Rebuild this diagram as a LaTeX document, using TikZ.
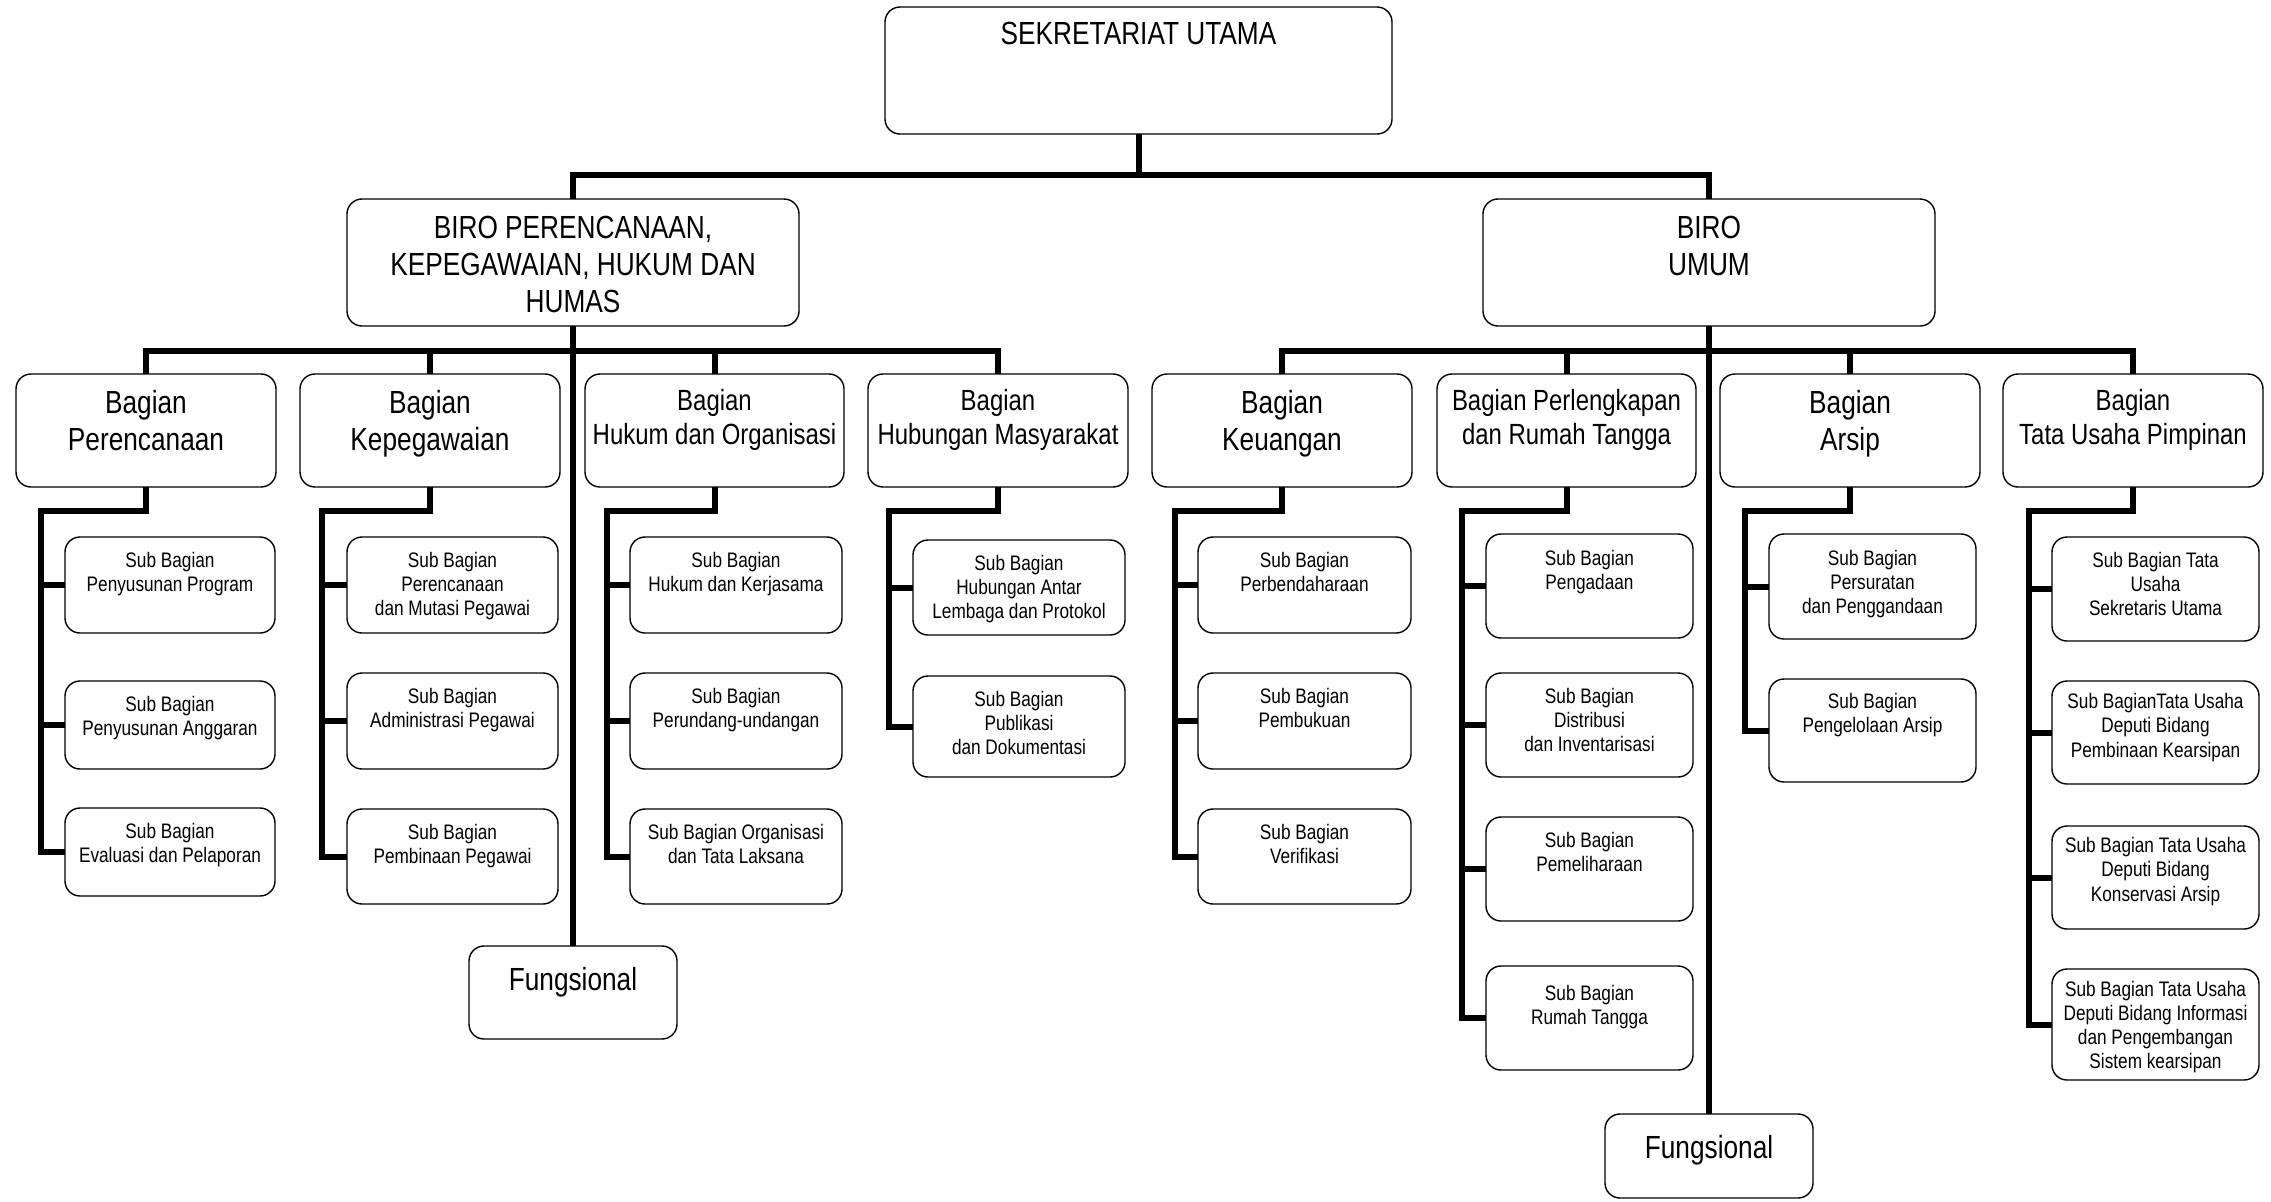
\documentclass[tikz,border=0pt]{standalone}
\usepackage{fontspec}
\setmainfont{Liberation Sans}[FakeStretch=0.82]
\usetikzlibrary{fit}
\newcommand\fntL{\fontsize{16pt}{18.5pt}\selectfont}
\newcommand\fntM{\fontsize{14.6pt}{16.85pt}\selectfont}
\newcommand\fntS{\fontsize{10.5pt}{12.1pt}\selectfont}
\newcommand\obox[8]{%
  \node[boxst, fit={(#2,#3) (#4,#5)}] (#1) {};
  \node[txtst, font=#6, anchor=north] (#1t) at ([yshift=-#7*0.5pt]#1.north) {#8};
}
\tikzset{
  boxst/.style={draw, line width=0.7pt, rounded corners=7.5pt, inner sep=0pt, outer sep=0pt},
  txtst/.style={align=center, inner sep=0pt},
  conn/.style={line width=3pt, line join=miter, line cap=butt}
}
\begin{document}
\begin{tikzpicture}[x=0.5pt, y=-0.5pt]
\useasboundingbox (0,0) rectangle (2271,1201);
% top level
\obox{top}{885}{7}{1392}{134}{\fntL}{15}{SEKRETARIAT UTAMA}
\obox{biroL}{347}{199}{799}{326}{\fntL}{17}{BIRO PERENCANAAN,\\KEPEGAWAIAN, HUKUM DAN\\HUMAS}
\obox{biroR}{1483}{199}{1935}{326}{\fntL}{17}{BIRO\\UMUM}
% bagian
\obox{bP}{16}{374}{276}{487}{\fntL}{16}{Bagian\\Perencanaan}
\obox{bK}{300}{374}{560}{487}{\fntL}{16}{Bagian\\Kepegawaian}
\obox{bH}{585}{374}{844}{487}{\fntM}{15}{Bagian\\Hukum dan Organisasi}
\obox{bM}{868}{374}{1128}{487}{\fntM}{15}{Bagian\\Hubungan Masyarakat}
\obox{bKu}{1152}{374}{1412}{487}{\fntL}{16}{Bagian\\Keuangan}
\obox{bPl}{1437}{374}{1696}{487}{\fntM}{15}{Bagian Perlengkapan\\dan Rumah Tangga}
\obox{bA}{1720}{374}{1980}{487}{\fntL}{16}{Bagian\\Arsip}
\obox{bT}{2003}{374}{2263}{487}{\fntM}{15}{Bagian\\Tata Usaha Pimpinan}
% fungsional
\obox{fL}{469}{946}{677}{1039}{\fntL}{21}{Fungsional}
\obox{fR}{1605}{1114}{1813}{1198}{\fntL}{21}{Fungsional}
% sub perencanaan
\obox{sP1}{65}{537}{275}{633}{\fntS}{14.5}{Sub Bagian\\Penyusunan Program}
\obox{sP2}{65}{681}{275}{769}{\fntS}{14.5}{Sub Bagian\\Penyusunan Anggaran}
\obox{sP3}{65}{808}{275}{896}{\fntS}{14.5}{Sub Bagian\\Evaluasi dan Pelaporan}
% sub kepegawaian
\obox{sK1}{347}{537}{558}{633}{\fntS}{14.5}{Sub Bagian\\Perencanaan\\dan Mutasi Pegawai}
\obox{sK2}{347}{673}{558}{769}{\fntS}{14.5}{Sub Bagian\\Administrasi Pegawai}
\obox{sK3}{347}{809}{558}{904}{\fntS}{14.5}{Sub Bagian\\Pembinaan Pegawai}
% sub hukum
\obox{sH1}{630}{537}{842}{633}{\fntS}{14.5}{Sub Bagian\\Hukum dan Kerjasama}
\obox{sH2}{630}{673}{842}{769}{\fntS}{14.5}{Sub Bagian\\Perundang-undangan}
\obox{sH3}{630}{809}{842}{904}{\fntS}{14.5}{Sub Bagian Organisasi\\dan Tata Laksana}
% sub humas
\obox{sM1}{913}{540}{1125}{635}{\fntS}{14.5}{Sub Bagian\\Hubungan Antar\\Lembaga dan Protokol}
\obox{sM2}{913}{676}{1125}{777}{\fntS}{14.5}{Sub Bagian\\Publikasi\\dan Dokumentasi}
% sub keuangan
\obox{sKu1}{1198}{537}{1411}{633}{\fntS}{14.5}{Sub Bagian\\Perbendaharaan}
\obox{sKu2}{1198}{673}{1411}{769}{\fntS}{14.5}{Sub Bagian\\Pembukuan}
\obox{sKu3}{1198}{809}{1411}{904}{\fntS}{14.5}{Sub Bagian\\Verifikasi}
% sub perlengkapan
\obox{sPl1}{1486}{534}{1693}{638}{\fntS}{15.5}{Sub Bagian\\Pengadaan}
\obox{sPl2}{1486}{673}{1693}{777}{\fntS}{14.5}{Sub Bagian\\Distribusi\\dan Inventarisasi}
\obox{sPl3}{1486}{817}{1693}{921}{\fntS}{14.5}{Sub Bagian\\Pemeliharaan}
\obox{sPl4}{1486}{966}{1693}{1070}{\fntS}{18.5}{Sub Bagian\\Rumah Tangga}
% sub arsip
\obox{sA1}{1769}{534}{1976}{639}{\fntS}{15.5}{Sub Bagian\\Persuratan\\dan Penggandaan}
\obox{sA2}{1769}{679}{1976}{782}{\fntS}{13.5}{Sub Bagian\\Pengelolaan Arsip}
% sub tata usaha
\obox{sT1}{2052}{537}{2259}{641}{\fntS}{14.5}{Sub Bagian Tata\\Usaha\\Sekretaris Utama}
\obox{sT2}{2052}{681}{2259}{784}{\fntS}{12}{Sub BagianTata Usaha\\Deputi Bidang\\Pembinaan Kearsipan}
\obox{sT3}{2052}{826}{2259}{929}{\fntS}{11}{Sub Bagian Tata Usaha\\Deputi Bidang\\Konservasi Arsip}
\obox{sT4}{2052}{969}{2259}{1080}{\fntS}{11.5}{Sub Bagian Tata Usaha\\Deputi Bidang Informasi\\dan Pengembangan\\Sistem kearsipan}
% connectors: top level
\coordinate (j0) at (1139,175);
\draw[conn] (top.south) -- (top.south |- j0);
\draw[conn] (biroL.north) -- (biroL.north |- j0) -- (biroR.north |- j0) -- (biroR.north);
% bagian level
\coordinate (lv) at (0,351);
\draw[conn] (bP.north) -- (bP.north |- lv) -- (bM.north |- lv) -- (bM.north);
\draw[conn] (bK.north) -- (bK.north |- lv);
\draw[conn] (bH.north) -- (bH.north |- lv);
\draw[conn] (biroL.south) -- (fL.north);
\draw[conn] (bKu.north) -- (bKu.north |- lv) -- (bT.north |- lv) -- (bT.north);
\draw[conn] (bPl.north) -- (bPl.north |- lv);
\draw[conn] (bA.north) -- (bA.north |- lv);
\draw[conn] (biroR.south) -- (fR.north);
% sub spines
\coordinate (spP) at (41,511);
\draw[conn] (bP.south) |- (spP) |- (sP3.west);
\draw[conn] (sP1.west) -- (sP1.west -| spP);
\draw[conn] (sP2.west) -- (sP2.west -| spP);
\coordinate (spK) at (322,511);
\draw[conn] (bK.south) |- (spK) |- (sK3.west);
\draw[conn] (sK1.west) -- (sK1.west -| spK);
\draw[conn] (sK2.west) -- (sK2.west -| spK);
\coordinate (spH) at (607,511);
\draw[conn] (bH.south) |- (spH) |- (sH3.west);
\draw[conn] (sH1.west) -- (sH1.west -| spH);
\draw[conn] (sH2.west) -- (sH2.west -| spH);
\coordinate (spM) at (889,511);
\draw[conn] (bM.south) |- (spM) |- (sM2.west);
\draw[conn] (sM1.west) -- (sM1.west -| spM);
\coordinate (spKu) at (1175,511);
\draw[conn] (bKu.south) |- (spKu) |- (sKu3.west);
\draw[conn] (sKu1.west) -- (sKu1.west -| spKu);
\draw[conn] (sKu2.west) -- (sKu2.west -| spKu);
\coordinate (spPl) at (1462,511);
\draw[conn] (bPl.south) |- (spPl) |- (sPl4.west);
\draw[conn] (sPl1.west) -- (sPl1.west -| spPl);
\draw[conn] (sPl2.west) -- (sPl2.west -| spPl);
\draw[conn] (sPl3.west) -- (sPl3.west -| spPl);
\coordinate (spA) at (1745,511);
\draw[conn] (bA.south) |- (spA) |- (sA2.west);
\draw[conn] (sA1.west) -- (sA1.west -| spA);
\coordinate (spT) at (2029,511);
\draw[conn] (bT.south) |- (spT) |- (sT4.west);
\draw[conn] (sT1.west) -- (sT1.west -| spT);
\draw[conn] (sT2.west) -- (sT2.west -| spT);
\draw[conn] (sT3.west) -- (sT3.west -| spT);
\end{tikzpicture}
\end{document}
